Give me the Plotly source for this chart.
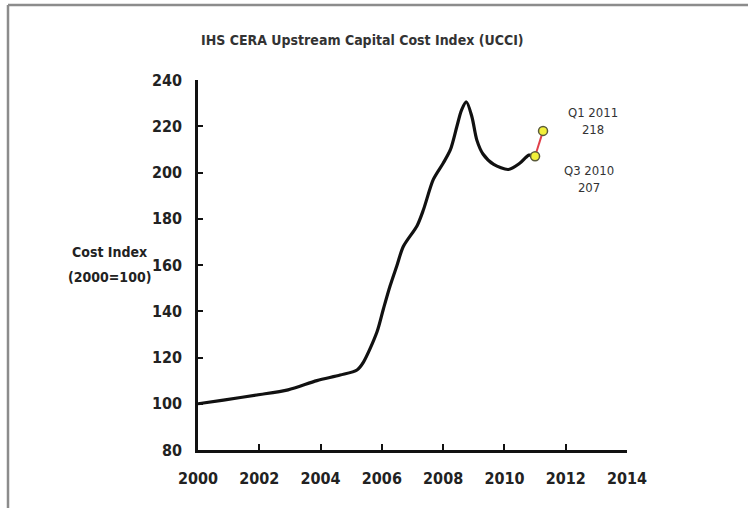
import plotly.graph_objects as go

# Upstream capital cost index, 2000 = 100
years = [2000.0, 2000.83, 2001.92, 2002.94, 2003.88, 2004.64, 2005.19, 2005.4, 2005.84,
         2006.05, 2006.27, 2006.49, 2006.7, 2007.15, 2007.36, 2007.68, 2008.0, 2008.24,
         2008.45, 2008.6, 2008.76, 2008.94, 2009.1, 2009.3, 2009.65, 2010.13, 2010.5,
         2010.8, 2011.0]
index_values = [100, 101.6, 103.8, 106, 110, 112.4, 114.6, 118, 131,
                141, 151, 159.7, 168, 177, 184, 197, 204, 210,
                220, 227, 230.5, 224, 214, 208, 203.5, 201.3, 204,
                207.5, 207]

# Latest quarterly readings
recent_labels = ["Q3 2010", "Q1 2011"]
recent_years = [2011.0, 2011.26]
recent_values = [207, 218]

x_ticks = [2000, 2002, 2004, 2006, 2008, 2010, 2012, 2014]
y_ticks = [80, 100, 120, 140, 160, 180, 200, 220, 240]
y_caption = ["Cost Index", "(2000=100)"]

FONT = "DejaVu Sans Condensed, Liberation Sans, sans-serif"
TXT = "#222222"

fig = go.Figure()

fig.add_trace(go.Scatter(
    x=years, y=index_values, mode="lines",
    line=dict(color="#111111", width=3.2, shape="spline", smoothing=0.8),
    hoverinfo="skip", showlegend=False,
))

fig.add_trace(go.Scatter(
    x=recent_years, y=recent_values, mode="lines+markers",
    line=dict(color="#e0404a", width=2),
    marker=dict(size=9, color="#f2f03a", line=dict(color="#5a5a3a", width=1.5)),
    showlegend=False,
))

# value labels next to the recent readings
fig.add_annotation(x=recent_years[1], y=recent_values[1], xref="x", yref="y",
                   text=f"{recent_labels[1]}<br>{recent_values[1]}",
                   showarrow=False, xshift=50, yshift=10, align="center",
                   font=dict(family=FONT, size=13, color="#333333"))
fig.add_annotation(x=recent_years[0], y=recent_values[0], xref="x", yref="y",
                   text=f"{recent_labels[0]}<br>{recent_values[0]}",
                   showarrow=False, xshift=54, yshift=-23, align="center",
                   font=dict(family=FONT, size=13, color="#333333"))

# outer frame (top and left edges) and pixel helpers
L, R, T, B = 198, 121, 80, 58
W, H = 748, 508
pw, ph = W - L - R, H - T - B
px = lambda v: (v - L) / pw
py = lambda v: (H - B - v) / ph

# y-axis caption, two lines
for line_text, ypix in zip(y_caption, [252, 277]):
    fig.add_annotation(x=px(109), y=py(ypix), xref="paper", yref="paper",
                       xanchor="center", yanchor="middle",
                       text=line_text, showarrow=False,
                       font=dict(family=FONT, size=14, color=TXT, weight="bold"))

# title
fig.add_annotation(x=0.383, y=1.135, xref="paper", yref="paper", xanchor="center",
                   text="IHS CERA Upstream Capital Cost Index (UCCI)",
                   showarrow=False, font=dict(family=FONT, size=14, color="#333333", weight="bold"))

fig.add_shape(type="line", xref="paper", yref="paper", x0=px(8), x1=px(748),
              y0=py(5), y1=py(5), line=dict(color="#8c8c8c", width=2.5))
fig.add_shape(type="line", xref="paper", yref="paper", x0=px(8), x1=px(8),
              y0=py(5), y1=py(508), line=dict(color="#8c8c8c", width=2.5))

fig.update_layout(
    width=W, height=H,
    margin=dict(l=L, r=R, t=T, b=B),
    paper_bgcolor="white", plot_bgcolor="white",
    xaxis=dict(range=[2000, 2014], tickvals=x_ticks, showgrid=False, zeroline=False,
               showline=True, linecolor="#111111", linewidth=2.5,
               ticks="inside", ticklen=6, tickwidth=2, tickcolor="#111111",
               tickfont=dict(family=FONT, size=16, color=TXT, weight="bold"), ticklabelstandoff=12),
    yaxis=dict(range=[80, 240], tickvals=y_ticks, showgrid=False, zeroline=False,
               showline=True, linecolor="#111111", linewidth=2.5,
               ticks="inside", ticklen=5, tickwidth=2, tickcolor="#111111",
               tickfont=dict(family=FONT, size=16, color=TXT, weight="bold"), ticklabelstandoff=10),
)

fig.write_html("out.html")
